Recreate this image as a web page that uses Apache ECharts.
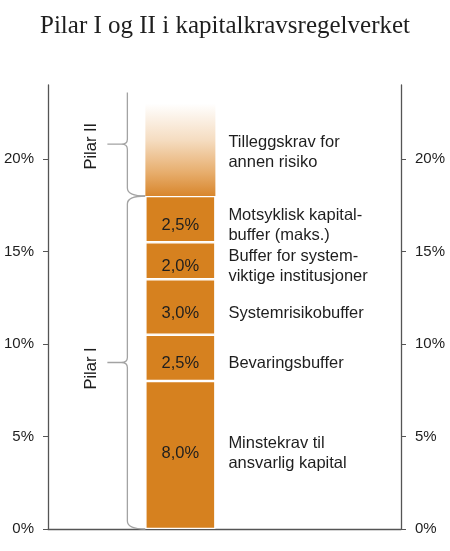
<!DOCTYPE html>
<html>
<head>
<meta charset="utf-8">
<script src="https://cdn.jsdelivr.net/npm/echarts@6/dist/echarts.min.js"></script>
<style>
  html, body { margin: 0; padding: 0; background: #ffffff; }
  #chart { width: 450px; height: 551px; }
</style>
</head>
<body>
<div id="chart"></div>
<script>
// x slots: the bar sits in slot 1, the others stay empty
const slots = ['a', 'krav', 'b', 'c'];
const barSlot = 1;

// Pilar I, bottom to top
const segmentNames = [
  'Minstekrav til\nansvarlig kapital',
  'Bevaringsbuffer',
  'Systemrisikobuffer',
  'Buffer for system-\nviktige institusjoner',
  'Motsyklisk kapital-\nbuffer (maks.)'
];
const segmentValues = [8.0, 2.5, 3.0, 2.0, 2.5];

// Pilar II (faded part on top)
const pillar2Name = 'Tilleggskrav for\nannen risiko';
const pillar2Value = 5.0;

// braces
const braceNames = ['Pilar I', 'Pilar II'];
const braceFrom = [0, 18];
const braceTo = [18, 23.6];

const yTicks = [0, 5, 10, 15, 20];

const FONT = '"Liberation Sans", Arial, sans-serif';
const ORANGE = '#d6811f';
const BAR_W = 70;

const fmtPct = v => v.toFixed(1).replace('.', ',') + '%';

const chart = echarts.init(document.getElementById('chart'));

// stack tops / middles for the notes on the right
let acc = 0;
const noteData = [];
segmentValues.forEach((v, i) => {
  noteData.push({ value: [barSlot, acc + v / 2], name: segmentNames[i], dy: i === 0 ? -2 : 6 });
  acc += v;
});
noteData.push({ value: [barSlot, acc + pillar2Value / 2], name: pillar2Name, dy: 3 });

const barSeries = segmentValues.map((v, i) => ({
  type: 'bar',
  stack: 'krav',
  barWidth: BAR_W,
  data: slots.map((s, k) => (k === barSlot ? v : '-')),
  itemStyle: { color: ORANGE, borderColor: '#ffffff', borderWidth: 1.2 },
  label: {
    show: true,
    position: 'inside',
    formatter: p => fmtPct(p.value),
    color: '#1e1e1e',
    fontFamily: FONT,
    fontSize: 16.5,
    offset: [0, i === 0 ? -2 : 6]
  },
  silent: true
}));

barSeries.push({
  type: 'bar',
  stack: 'krav',
  barWidth: BAR_W,
  data: slots.map((s, k) => (k === barSlot ? pillar2Value : '-')),
  itemStyle: {
    color: new echarts.graphic.LinearGradient(0, 0, 0, 1, [
      { offset: 0, color: '#ffffff' },
      { offset: 0.4, color: '#f5dcc0' },
      { offset: 0.75, color: '#e7ad6c' },
      { offset: 1, color: '#d8862c' }
    ])
  },
  silent: true
});

chart.setOption({
  animation: false,
  title: {
    text: 'Pilar I og II i kapitalkravsregelverket',
    left: 'center',
    top: 9,
    textStyle: {
      fontFamily: '"Liberation Serif", "Times New Roman", serif',
      fontSize: 25,
      fontWeight: 'normal',
      color: '#1e1e1e'
    }
  },
  grid: { left: 48, right: 49, top: 85, bottom: 22 },
  xAxis: {
    type: 'category',
    data: slots,
    axisLine: { lineStyle: { color: '#555555', width: 1.3 } },
    axisTick: { show: false },
    axisLabel: { show: false }
  },
  yAxis: [0, 1].map(k => ({
    type: 'value',
    position: k === 0 ? 'left' : 'right',
    min: 0,
    max: 24,
    splitLine: { show: false },
    axisLine: { show: true, lineStyle: { color: '#555555', width: 1.3 } },
    axisTick: { show: true, inside: false, length: 5, customValues: yTicks, lineStyle: { color: '#555555' } },
    axisLabel: {
      customValues: yTicks,
      formatter: v => v + '%',
      margin: 14,
      color: '#1e1e1e',
      fontFamily: FONT,
      fontSize: 15
    }
  })),
  series: [
    ...barSeries,
    {
      type: 'custom',
      name: 'notes',
      silent: true,
      data: noteData,
      encode: { x: 0, y: 1 },
      renderItem: (params, api) => {
        const pt = api.coord([api.value(0), api.value(1)]);
        const item = noteData[params.dataIndex];
        return {
          type: 'text',
          x: pt[0] + BAR_W / 2 + 13,
          y: pt[1] + item.dy,
          style: {
            text: item.name,
            fill: '#1e1e1e',
            font: '16.5px ' + FONT,
            lineHeight: 20,
            align: 'left',
            verticalAlign: 'middle'
          }
        };
      }
    },
    {
      type: 'custom',
      name: 'braces',
      silent: true,
      data: braceNames.map((n, i) => ({ name: n, value: [barSlot, braceFrom[i], braceTo[i]] })),
      encode: { x: 0, y: [1, 2] },
      renderItem: (params, api) => {
        const i = params.dataIndex;
        const yb = api.coord([api.value(0), api.value(1)])[1];
        const yt = api.coord([api.value(0), api.value(2)])[1];
        const barLeft = api.coord([api.value(0), 0])[0] - BAR_W / 2;
        const x0 = barLeft - 18;
        const xt = x0 - 20;
        const ym = (yb + yt) / 2;
        const r = 8;
        let d = 'M' + barLeft + ',' + yb +
          ' Q' + x0 + ',' + yb + ' ' + x0 + ',' + (yb - r) +
          ' L' + x0 + ',' + (ym + 5) +
          ' Q' + x0 + ',' + ym + ' ' + (x0 - 6) + ',' + ym +
          ' L' + xt + ',' + ym +
          ' L' + (x0 - 6) + ',' + ym +
          ' Q' + x0 + ',' + ym + ' ' + x0 + ',' + (ym - 5);
        if (i === 0) {
          d += ' L' + x0 + ',' + (yt + r) +
            ' Q' + x0 + ',' + yt + ' ' + barLeft + ',' + yt;
        } else {
          d += ' L' + x0 + ',' + yt;
        }
        return {
          type: 'group',
          children: [
            {
              type: 'path',
              shape: { pathData: d },
              style: { stroke: '#a3a3a3', fill: null, lineWidth: 1.3 }
            },
            {
              type: 'text',
              x: xt - 16,
              y: ym + (i === 0 ? 6 : 2),
              rotation: Math.PI / 2,
              style: {
                text: braceNames[i],
                fill: '#1e1e1e',
                font: '16.5px ' + FONT,
                align: 'center',
                verticalAlign: 'middle'
              }
            }
          ]
        };
      }
    }
  ]
});
</script>
</body>
</html>
